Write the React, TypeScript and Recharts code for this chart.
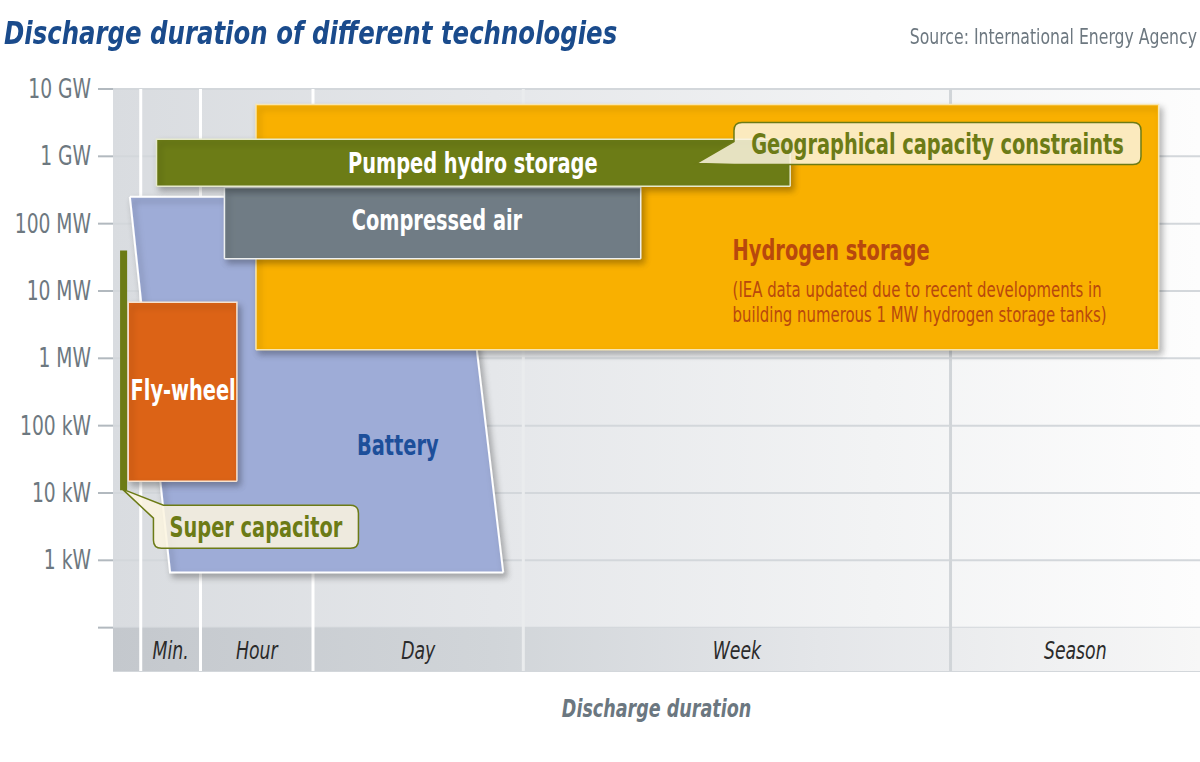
import React from 'react';
import { ComposedChart, Area, Line, Scatter, XAxis, YAxis, CartesianGrid } from 'recharts';

const FONT = "'DejaVu Sans Condensed', 'Liberation Sans', sans-serif";

// power axis, watts on a log scale
const powerTicks = [1e2, 1e3, 1e4, 1e5, 1e6, 1e7, 1e8, 1e9, 1e10];
const powerLabels = ['', '1 kW', '10 kW', '100 kW', '1 MW', '10 MW', '100 MW', '1 GW', '10 GW'];
const powerRange = [22.7, 1e10];
const stripTop = 1e2; // the duration strip sits below 100 W

// duration axis, relative position 0..100
const bandEdges = [0, 2.55, 8.05, 18.4, 37.75, 77.05, 100];
const bandNames = ['', 'Min.', 'Hour', 'Day', 'Week', 'Season'];

// [start, end, min W, max W]
const hydrogen = [13.15, 96.2, 1.34e6, 5.9e9];
const compressedAir = [10.25, 48.55, 3.0e7, 3.45e8];
const pumpedHydro = [4.0, 62.3, 3.6e8, 1.8e9];
const flyWheel = [1.4, 11.4, 1.5e4, 6.8e6];
const superCapacitor = [0.65, 1.3, 1.1e4, 4.0e7];
// battery is a trapezoid: duration span at its top power and at its bottom power
const batteryTop = [1.55, 31.8];
const batteryBottom = [5.25, 35.9];
const batteryPower = [660, 2.5e8];

const annotations = [
  { key: 'pumped', text: 'Pumped hydro storage', x: 33.1, p: 8.0e8 },
  { key: 'compressed', text: 'Compressed air', x: 29.8, p: 1.14e8 },
  { key: 'battery', text: 'Battery', x: 26.2, p: 5.2e4 },
  { key: 'flywheel', text: 'Fly-wheel', x: 6.45, p: 3.4e5 },
  { key: 'hydrogen', text: 'Hydrogen storage', x: 57.0, p: 4.1e7 },
  { key: 'geo', text: 'Geographical capacity constraints', x: 75.85, p: 1.55e9 },
  { key: 'supercap', text: 'Super capacitor', x: 13.15, p: 3.16e3 },
];
const hydrogenNote = [
  '(IEA data updated due to recent developments in',
  'building numerous 1 MW hydrogen storage tanks)',
];

const rectData = ([x1, x2, lo, hi]: number[]) => [
  { x: x1, r: [lo, lo] },
  { x: x1, r: [lo, hi] },
  { x: x2, r: [lo, hi] },
  { x: x2, r: [lo, lo] },
];

const batteryData = [
  { x: batteryTop[0], r: [batteryPower[1], batteryPower[1]] },
  { x: batteryBottom[0], r: [batteryPower[0], batteryPower[1]] },
  { x: batteryTop[1], r: [batteryPower[0], batteryPower[1]] },
  { x: batteryBottom[1], r: [batteryPower[0], batteryPower[0]] },
];

const stripData = [
  { x: bandEdges[0], r: [powerRange[0], stripTop] },
  { x: bandEdges[bandEdges.length - 1], r: [powerRange[0], stripTop] },
];

const separators = bandEdges.slice(1, -1).map((e) => [
  { x: e, v: powerRange[0] },
  { x: e, v: powerRange[1] },
]);

const bandCenters = bandNames.map((_, i) => (bandEdges[i] + bandEdges[i + 1]) / 2);

const OLIVE = '#6c7b16';
const CREAM = '#fcf5df';

// condensed text: the original face is a narrow one, so squeeze horizontally
const CText = ({ x, y, sx = 0.78, anchor = 'middle', children, ...rest }: any) => (
  <text transform={`translate(${x} ${y}) scale(${sx} 1)`} textAnchor={anchor} fontFamily={FONT} {...rest}>
    {children}
  </text>
);

const BandTick = (props: any) => {
  const { x, y, payload } = props;
  const i = bandCenters.indexOf(payload.value);
  return (
    <CText x={x} y={y - 12} sx={0.8} fill="#2b2b2b" fontSize={24} fontStyle="italic">
      {bandNames[i] ?? ''}
    </CText>
  );
};

const PowerTick = (props: any) => {
  const { x, y, payload } = props;
  return (
    <CText x={x} y={y + 9} sx={0.8} anchor="end" fill="#6d7880" fontSize={26}>
      {powerLabels[powerTicks.indexOf(payload.value)] ?? ''}
    </CText>
  );
};

const AxisTitle = (props: any) => {
  const { viewBox } = props;
  if (!viewBox) return null;
  return (
    <CText x={viewBox.x + viewBox.width / 2} y={viewBox.y + viewBox.height + 18} fill="#6b7780" fontSize={25} fontWeight={700} fontStyle="italic">
      Discharge duration
    </CText>
  );
};

const labelColors: Record<string, string> = {
  pumped: '#ffffff',
  compressed: '#ffffff',
  flywheel: '#ffffff',
  battery: '#1d4f9a',
  hydrogen: '#b8480d',
};

function Callout({ cx, cy, text, kind }: { cx: number; cy: number; text: string; kind: string }) {
  let d = '';
  const r = 8;
  if (kind === 'geo') {
    const w = 407, h = 42;
    const L = cx - w / 2, R = cx + w / 2, T = cy - h / 2, B = cy + h / 2;
    d = `M ${L + r} ${T} H ${R - r} Q ${R} ${T} ${R} ${T + r} V ${B - r} Q ${R} ${B} ${R - r} ${B} H ${L} L ${L - 38} ${B - 1} L ${L} ${cy - 2} V ${T + r} Q ${L} ${T} ${L + r} ${T} Z`;
  } else {
    const w = 205, h = 43;
    const L = cx - w / 2, R = cx + w / 2, T = cy - h / 2, B = cy + h / 2;
    d = `M ${L + 10} ${T} H ${R - r} Q ${R} ${T} ${R} ${T + r} V ${B - r} Q ${R} ${B} ${R - r} ${B} H ${L + r} Q ${L} ${B} ${L} ${B - r} V ${T + 13} L ${L - 31} ${T - 16} Z`;
  }
  return (
    <g>
      <path d={d} fill={CREAM} fillOpacity={0.85} stroke={OLIVE} strokeWidth={1.5} />
      <CText x={cx} y={cy + 10} sx={0.77} fill={OLIVE} fontSize={28} fontWeight={700}>
        {text}
      </CText>
    </g>
  );
}

const renderAnnotation = (props: any) => {
  const { cx, cy, payload } = props;
  if (payload.key === 'geo' || payload.key === 'supercap') {
    return <Callout cx={cx} cy={cy} text={payload.text} kind={payload.key} />;
  }
  if (payload.key === 'hydrogen') {
    return (
      <g>
        <CText x={cx} y={cy + 10} sx={0.77} anchor="start" fill={labelColors.hydrogen} fontSize={28} fontWeight={700}>
          {payload.text}
        </CText>
        {hydrogenNote.map((t, i) => (
          <CText key={i} x={cx} y={cy + 47 + 25 * i} sx={0.79} anchor="start" fill={labelColors.hydrogen} fontSize={21}>
            {t}
          </CText>
        ))}
      </g>
    );
  }
  return (
    <CText x={cx} y={cy + 10} sx={0.77} fill={labelColors[payload.key]} fontSize={28} fontWeight={700}>
      {payload.text}
    </CText>
  );
};

export default function App() {
  return (
    <div style={{ position: 'absolute', left: 0, top: 0, width: 1200, height: 762, background: '#fff', overflow: 'hidden' }}>
      <div
        style={{
          position: 'absolute', left: 4, top: 14, fontSize: 32, lineHeight: '38px', fontWeight: 700,
          fontStyle: 'italic', color: '#1a4b8c', fontFamily: FONT, whiteSpace: 'nowrap',
          transform: 'scaleX(0.848)', transformOrigin: 'left center',
        }}
      >
        Discharge duration of different technologies
      </div>
      <div
        style={{
          position: 'absolute', right: 3, top: 25, fontSize: 21, lineHeight: '24px', color: '#6d7880',
          fontFamily: FONT, whiteSpace: 'nowrap', transform: 'scaleX(0.83)', transformOrigin: 'right center',
        }}
      >
        Source: International Energy Agency
      </div>
      <ComposedChart width={1200} height={762} margin={{ top: 89, right: 0, bottom: 63, left: 0 }}>
        <defs>
          <linearGradient id="bgGrad" x1="0" y1="0" x2="1" y2="0">
            <stop offset="0" stopColor="#d9dce0" />
            <stop offset="0.35" stopColor="#e5e7ea" />
            <stop offset="0.7" stopColor="#f2f3f4" />
            <stop offset="1" stopColor="#fdfdfd" />
          </linearGradient>
          <linearGradient id="stripGrad" x1="0" y1="0" x2="1" y2="0">
            <stop offset="0" stopColor="#c4c8cd" />
            <stop offset="0.35" stopColor="#d1d5d9" />
            <stop offset="0.65" stopColor="#e4e6e9" />
            <stop offset="1" stopColor="#f7f7f7" />
          </linearGradient>
          <linearGradient id="sepGrad" gradientUnits="userSpaceOnUse" x1="113" y1="0" x2="1200" y2="0">
            <stop offset="0" stopColor="#ffffff" />
            <stop offset="0.3" stopColor="#ffffff" />
            <stop offset="0.45" stopColor="#d6dadd" />
            <stop offset="1" stopColor="#cdd1d5" />
          </linearGradient>
          <filter id="shadow" filterUnits="userSpaceOnUse" x="0" y="0" width="1200" height="762">
            <feDropShadow dx="3" dy="4" stdDeviation="3" floodColor="#000" floodOpacity="0.28" />
          </filter>
        </defs>
        <CartesianGrid vertical={false} stroke="#d3d7db" strokeWidth={2} fill="url(#bgGrad)" fillOpacity={1} />
        <XAxis
          dataKey="x"
          type="number"
          domain={[0, 100]}
          allowDataOverflow
          ticks={bandCenters.slice(1)}
          interval={0}
          tickSize={0}
          tickMargin={0}
          axisLine={false}
          tickLine={false}
          height={28}
          tick={<BandTick />}
          label={<AxisTitle />}
        />
        <YAxis
          type="number"
          scale="log"
          domain={powerRange}
          allowDataOverflow
          ticks={powerTicks}
          interval={0}
          width={113}
          tickSize={15}
          tickMargin={7}
          axisLine={false}
          tickLine={{ stroke: '#b2b9bf', strokeWidth: 2 }}
          tick={<PowerTick />}
        />
        <Area data={stripData} dataKey="r" type="linear" fill="url(#stripGrad)" fillOpacity={1} stroke="none" isAnimationActive={false} zIndex={101} />
        {separators.map((d, i) => (
          <Line key={i} data={d} dataKey="v" type="linear" stroke="url(#sepGrad)" strokeWidth={3} dot={false} activeDot={false} isAnimationActive={false} zIndex={102} />
        ))}
        <Area data={batteryData} dataKey="r" type="linear" fill="#9eacd7" fillOpacity={1} stroke="#ffffff" strokeWidth={2} filter="url(#shadow)" isAnimationActive={false} zIndex={103} />
        <Area data={rectData(hydrogen)} dataKey="r" type="linear" fill="#f9b000" fillOpacity={1} stroke="#f8e6b0" strokeWidth={1.5} filter="url(#shadow)" isAnimationActive={false} zIndex={104} />
        <Area data={rectData(compressedAir)} dataKey="r" type="linear" fill="#6f7c85" fillOpacity={1} stroke="#eef0f0" strokeWidth={1.5} filter="url(#shadow)" isAnimationActive={false} zIndex={105} />
        <Area data={rectData(pumpedHydro)} dataKey="r" type="linear" fill="#6c7b16" fillOpacity={1} stroke="#e6e9cc" strokeWidth={1.5} filter="url(#shadow)" isAnimationActive={false} zIndex={106} />
        <Area data={rectData(flyWheel)} dataKey="r" type="linear" fill="#dc6413" fillOpacity={1} stroke="#f6e2cf" strokeWidth={1.5} filter="url(#shadow)" isAnimationActive={false} zIndex={107} />
        <Area data={rectData(superCapacitor)} dataKey="r" type="linear" fill="#6c7b16" fillOpacity={1} stroke="none" isAnimationActive={false} zIndex={108} />
        <Scatter data={annotations} dataKey="p" shape={renderAnnotation} isAnimationActive={false} zIndex={600} />
      </ComposedChart>
    </div>
  );
}
